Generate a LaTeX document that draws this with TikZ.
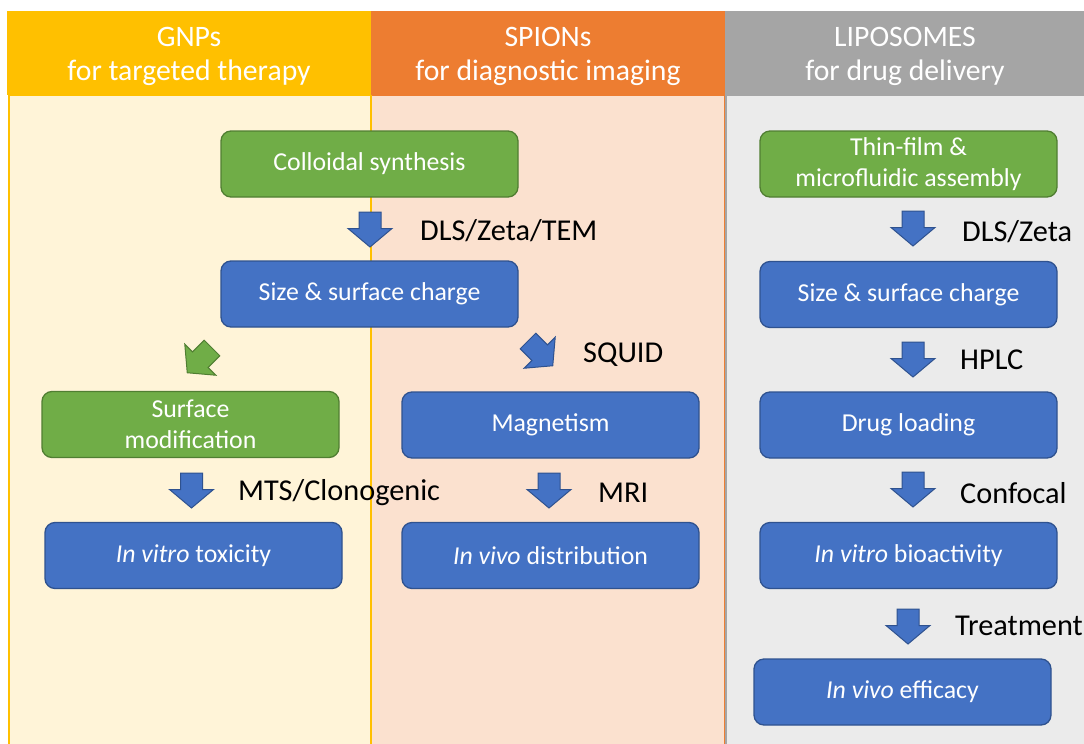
\documentclass[tikz,border=0pt]{standalone}
\usepackage{fontspec}
\setmainfont{Carlito}
\usepackage{tikz}
\definecolor{gnpHead}{HTML}{FFC000}
\definecolor{gnpBack}{HTML}{FFF4D8}
\definecolor{spiHead}{HTML}{ED7D31}
\definecolor{spiBack}{HTML}{FBE1CF}
\definecolor{lipHead}{HTML}{A5A5A5}
\definecolor{lipBack}{HTML}{EBEBEB}
\definecolor{grFill}{HTML}{70AD47}
\definecolor{grLine}{HTML}{507E32}
\definecolor{blFill}{HTML}{4472C4}
\definecolor{blLine}{HTML}{2F528F}
\newcommand{\hdfont}{\fontsize{29.7}{34}\selectfont}
\newcommand{\lbfont}{\fontsize{30.3}{34}\selectfont}
\newcommand{\bxfont}{\fontsize{25.8}{31}\selectfont}
\tikzset{
  box/.style={rounded corners=10pt, minimum width=297pt, minimum height=66pt,
    text=white, align=center, line width=1.3pt, font=\bxfont},
  grbox/.style={box, fill=grFill, draw=grLine},
  blbox/.style={box, fill=blFill, draw=blLine},
  head/.style={text=white, align=center, font=\hdfont},
  lab/.style={anchor=west, inner sep=0pt, font=\lbfont},
  grarr/.style={fill=grFill, draw=grLine, line width=1pt},
  blarr/.style={fill=blFill, draw=blLine, line width=1pt},
  pics/downarr/.style={code={
    \draw[pic actions] (-11,0) -- (11,0) -- (11,16.5) -- (22,16.5) -- (0,35)
      -- (-22,16.5) -- (-11,16.5) -- cycle;}}
}
\begin{document}
\begin{tikzpicture}[x=1pt, y=-1pt]
  \useasboundingbox (0,0) rectangle (1084,744);

  \draw[fill=spiBack, draw=spiHead, line width=2pt] (371,95) rectangle (725,760);
  \draw[fill=gnpBack, draw=gnpHead, line width=2pt] (9,95) rectangle (371,760);
  \draw[fill=lipBack, draw=lipHead, line width=2pt] (726,95) rectangle (1095,760);
  \fill[gnpHead] (7,11) rectangle (371,95);
  \fill[spiHead] (371,11) rectangle (725,95);
  \fill[lipHead] (725,11) rectangle (1084,95);

  \node[head] (hgnp) at (189,56) {GNPs\\for targeted therapy};
  \node[head] (hspi) at (548,56) {SPIONs\\for diagnostic imaging};
  \node[head] (hlip) at (905,56) {LIPOSOMES\\for drug delivery};

  \node[grbox] (synth) at (369.5,164) {Colloidal synthesis};
  \node[blbox] (gsize) at (369.5,294) {Size \& surface charge};
  \node[grbox] (surf) at (190.5,424.5) {Surface\\modification};
  \node[blbox] (magn) at (550.5,425) {Magnetism};
  \node[blbox] (tox) at (193.5,555.5) {\textit{In vitro} toxicity};
  \node[blbox] (distr) at (550.5,555.5) {\textit{In vivo} distribution};

  \node[grbox] (thin) at (908.5,164) {Thin-film \&\\microfluidic assembly};
  \node[blbox] (lsize) at (908.5,294.5) {Size \& surface charge};
  \node[blbox] (load) at (908.5,425) {Drug loading};
  \node[blbox] (bioact) at (908.5,555.5) {\textit{In vitro} bioactivity};
  \node[blbox] (effic) at (902.5,692) {\textit{In vivo} efficacy};

  \pic[blarr] at (370,212) {downarr};
  \pic[grarr, rotate=-45] at (212,348) {downarr};
  \pic[blarr, rotate=45] at (528,341) {downarr};
  \pic[blarr] at (191.5,473) {downarr};
  \pic[blarr] at (549,473) {downarr};
  \pic[blarr] at (913,211) {downarr};
  \pic[blarr] at (913,342) {downarr};
  \pic[blarr] at (913,472) {downarr};
  \pic[blarr] at (908,609) {downarr};

  \node[lab] (ldls) at (420,231) {DLS/Zeta/TEM};
  \node[lab] (lsquid) at (583,355) {SQUID};
  \node[lab] (lmts) at (238,493) {MTS/Clonogenic};
  \node[lab] (lmri) at (598,493) {MRI};
  \node[lab] (ldlz) at (962,232) {DLS/Zeta};
  \node[lab] (lhplc) at (960,360) {HPLC};
  \node[lab] (lconf) at (960,493) {Confocal};
  \node[lab] (ltreat) at (955,626) {Treatment};
\end{tikzpicture}
\end{document}
